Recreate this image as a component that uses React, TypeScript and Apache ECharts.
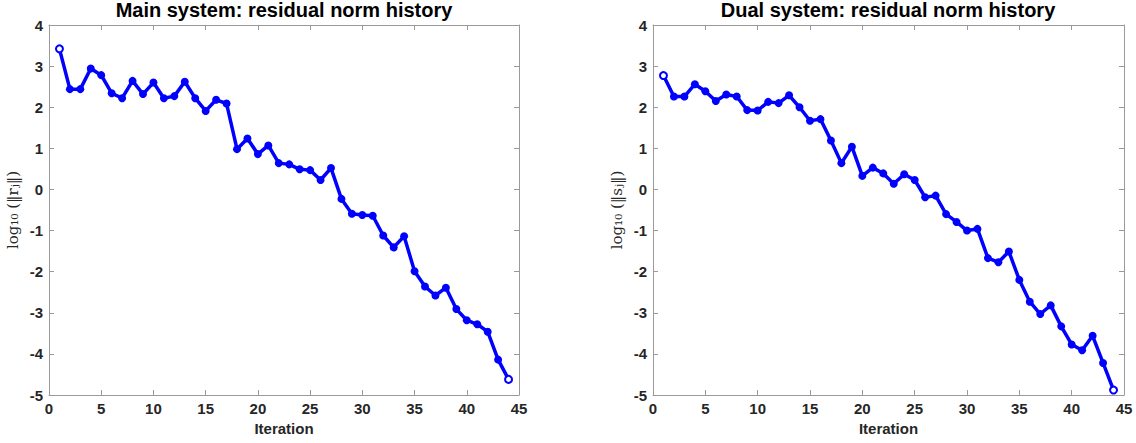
import React, { useEffect, useRef } from "react";
import * as echarts from "echarts";

const iterations: number[] = Array.from({ length: 44 }, (_, k) => k + 1);

const mainResidual: number[] = [
  3.42, 2.44, 2.44, 2.94, 2.78, 2.34, 2.22, 2.64, 2.32, 2.6,
  2.22, 2.27, 2.62, 2.22, 1.91, 2.18, 2.09, 0.98, 1.24, 0.86,
  1.07, 0.64, 0.61, 0.49, 0.47, 0.23, 0.52, -0.23, -0.59, -0.62,
  -0.64, -1.12, -1.41, -1.14, -1.99, -2.36, -2.58, -2.39, -2.91, -3.18,
  -3.28, -3.46, -4.14, -4.62,
];

const dualResidual: number[] = [
  2.77, 2.26, 2.26, 2.56, 2.39, 2.15, 2.31, 2.26, 1.93, 1.92,
  2.13, 2.1, 2.29, 2.0, 1.67, 1.71, 1.19, 0.64, 1.04, 0.33,
  0.53, 0.39, 0.14, 0.37, 0.23, -0.19, -0.15, -0.6, -0.79, -1.0,
  -0.96, -1.67, -1.77, -1.51, -2.2, -2.73, -3.03, -2.82, -3.33, -3.77,
  -3.91, -3.56, -4.22, -4.88,
];

const titles: string[] = [
  "Main system: residual norm history",
  "Dual system: residual norm history",
];
const yNames: string[] = ["log\u2081\u2080 (\u2016r\u2C7C\u2016)", "log\u2081\u2080 (\u2016s\u2C7C\u2016)"];
const xName = "Iteration";

const BLUE = "#0000ff";
const AXIS = "#9a9a9a";
const FONT = "'Liberation Sans', Arial, Helvetica, sans-serif";

export default function App() {
  const ref = useRef<HTMLDivElement>(null);
  useEffect(() => {
    if (!ref.current) return;
    const chart = echarts.init(ref.current, undefined, { renderer: "svg" });
    const grids = [
      { left: 49, top: 25, width: 470, height: 370 },
      { left: 653, top: 25, width: 471, height: 370 },
    ];
    const titleX = [284, 888];
    const xAxes: any[] = [];
    const yAxes: any[] = [];
    const series: any[] = [];
    const graphics: any[] = [];
    [mainResidual, dualResidual].forEach((vals, g) => {
      const axisLine = { show: true, onZero: false, lineStyle: { color: AXIS, width: 1 } };
      const tick = { show: true, inside: true, length: 5, lineStyle: { color: AXIS } };
      xAxes.push({
        type: "value",
        gridIndex: g,
        position: "bottom",
        min: 0,
        max: 45,
        interval: 5,
        axisLine,
        axisTick: tick,
        splitLine: { show: false },
        axisLabel: { color: "#262626", fontSize: 15, fontWeight: "bold", fontFamily: FONT, margin: 6 },
        name: xName,
        nameLocation: "middle",
        nameGap: 26,
        nameTextStyle: { color: "#262626", fontSize: 15, fontWeight: "bold", fontFamily: FONT },
      });
      xAxes.push({
        type: "value",
        gridIndex: g,
        position: "top",
        min: 0,
        max: 45,
        interval: 5,
        axisLine,
        axisTick: tick,
        splitLine: { show: false },
        axisLabel: { show: false },
      });
      yAxes.push({
        type: "value",
        gridIndex: g,
        position: "left",
        min: -5,
        max: 4,
        interval: 1,
        axisLine,
        axisTick: tick,
        splitLine: { show: false },
        axisLabel: { color: "#262626", fontSize: 15, fontWeight: "bold", fontFamily: FONT, margin: 6 },
        name: yNames[g],
        nameLocation: "middle",
        nameGap: 29,
        nameRotate: 90,
        nameTextStyle: { color: "#262626", fontSize: 15, fontFamily: "'DejaVu Serif', 'Liberation Serif', serif" },
      });
      yAxes.push({
        type: "value",
        gridIndex: g,
        position: "right",
        min: -5,
        max: 4,
        interval: 1,
        axisLine,
        axisTick: tick,
        splitLine: { show: false },
        axisLabel: { show: false },
      });
      const data = vals.map((v, k) => {
        const pt: any = { value: [iterations[k], v] };
        if (k === 0 || k === vals.length - 1) {
          pt.symbolSize = 7;
          pt.itemStyle = { color: "#ffffff", borderColor: BLUE, borderWidth: 2 };
        }
        return pt;
      });
      series.push({
        type: "line",
        xAxisIndex: g * 2,
        yAxisIndex: g * 2,
        data,
        symbol: "circle",
        symbolSize: 8,
        showSymbol: true,
        lineStyle: { color: BLUE, width: 3.5 },
        itemStyle: { color: BLUE },
        z: 3,
      });
      graphics.push({
        type: "text",
        x: titleX[g],
        y: 0,
        style: {
          text: titles[g],
          fill: "#000",
          font: `bold 20px ${FONT}`,
          textAlign: "center",
          textVerticalAlign: "top",
        },
      });
    });
    chart.setOption({
      animation: false,
      backgroundColor: "#ffffff",
      grid: grids,
      xAxis: xAxes,
      yAxis: yAxes,
      series,
      graphic: graphics,
    });
    return () => chart.dispose();
  }, []);
  return (
    <div
      ref={ref}
      style={{ position: "fixed", left: 0, top: 0, width: 1136, height: 443 }}
    />
  );
}
